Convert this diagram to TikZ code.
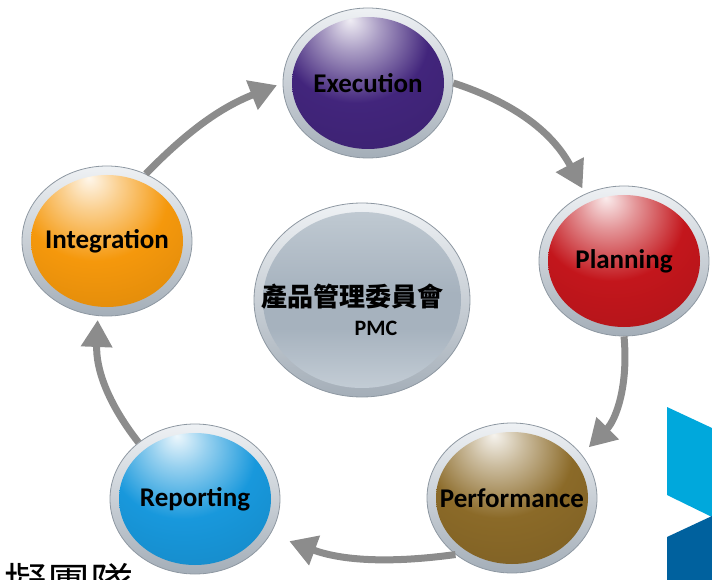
\documentclass[tikz,border=0pt]{standalone}
\usepackage{fontspec}
\setmainfont{Carlito}
\newfontfamily\cjk{Noto Sans CJK TC}
\usetikzlibrary{shapes.geometric,arrows.meta}

\definecolor{execcol}{HTML}{42257C}
\definecolor{plancol}{HTML}{C3161C}
\definecolor{perfcol}{HTML}{8B6A28}
\definecolor{reportcol}{HTML}{1898DC}
\definecolor{integcol}{HTML}{F5980C}
\definecolor{ringtop}{HTML}{EEF1F4}
\definecolor{ringbot}{HTML}{A4AEB8}
\definecolor{ringedge}{HTML}{8E98A2}
\definecolor{arrowgray}{HTML}{8C8C8C}
\definecolor{logolight}{HTML}{00A8DC}
\definecolor{logodark}{HTML}{00619E}
\definecolor{silver0}{HTML}{E2E7EC}
\definecolor{silver1}{HTML}{C8D1D9}
\definecolor{silver2}{HTML}{A6B2BE}
\definecolor{silver3}{HTML}{BCC6CF}
\definecolor{silver4}{HTML}{DCE2E7}
\colorlet{orbcol}{white}

\pgfdeclareradialshading[orbcol]{orbshade}{\pgfpoint{-6bp}{24bp}}{%
  color(0bp)=(orbcol!8!white); color(9bp)=(orbcol!45!white);
  color(24bp)=(orbcol); color(55bp)=(orbcol!85!black);
  color(76bp)=(orbcol!70!black)}
\pgfdeclareverticalshading{silvershade}{100bp}{%
  color(0bp)=(silver0); color(22bp)=(silver1); color(42bp)=(silver2);
  color(52bp)=(silver2); color(72bp)=(silver3); color(100bp)=(silver4)}

\newcommand\orbfont{\bfseries\fontsize{27}{32}\selectfont}

\tikzset{
  ring/.style={ellipse, inner sep=0pt, minimum width=170, minimum height=150,
    top color=ringtop, bottom color=ringbot, draw=ringedge, line width=0.8pt},
  orb/.style={ellipse, inner sep=0pt, minimum width=152, minimum height=132,
    /utils/exec={\colorlet{orbcol}{#1}}, shading=orbshade},
  cyc/.style={draw=arrowgray, line width=7pt,
    -{Triangle[length=27pt,width=30pt]}}
}

\begin{document}
\begin{tikzpicture}[x=1pt,y=-1pt,every label/.style={font=\orbfont}]
  \useasboundingbox (0,0) rectangle (712,580);

  % balls
  \node[ring] (exec-ring) at (368,83) {};
  \node[orb=execcol, label=center:Execution] (exec) at (exec-ring) {};
  \node[ring] (plan-ring) at (624,261) {};
  \node[orb=plancol, label=center:Planning] (plan) at (plan-ring) {};
  \node[ring] (perf-ring) at (512,498) {};
  \node[orb=perfcol, label=center:Performance] (perf) at (perf-ring) {};
  \node[ring] (report-ring) at (195,499) {};
  \node[orb=reportcol, label=center:Reporting] (report) at (report-ring) {};
  \node[ring] (integ-ring) at (107,241) {};
  \node[orb=integcol, label=center:Integration] (integ) at (integ-ring) {};

  % center
  \node[ring, minimum width=216, minimum height=194] (pmc-ring) at (362,300) {};
  \node[ellipse, inner sep=0pt, minimum width=198, minimum height=176,
    shading=silvershade] (pmc) at (pmc-ring) {};
  \node[anchor=base, font=\cjk\bfseries\fontsize{26}{30}\selectfont] (pmc-name) at (352,306) {產品管理委員會};
  \node[anchor=base, font=\bfseries\fontsize{22}{26}\selectfont] (pmc-abbr) at (376,335) {PMC};

  % cycle
  \draw[cyc, shorten >=6pt] (integ-ring.60) to[bend left=12] (exec-ring.west);
  \draw[cyc, shorten >=6pt] (exec-ring.east) to[bend left=22] (plan-ring.120);
  \draw[cyc, shorten >=10pt] (plan-ring.south) to[bend left=25] (perf-ring.32);
  \draw[cyc, shorten >=20pt] (perf-ring.225) to[bend left=14] (report-ring.335);
  \draw[cyc, shorten >=4pt] (report-ring.135) to[bend left=20] (integ-ring.263);

  % bottom text and logo
  \node[anchor=base west, inner sep=0pt, font=\cjk\fontsize{43}{50}\selectfont] (team) at (4,599) {擬團隊};
  \fill[logolight] (667,407) -- (712,428) -- (712,517) -- (667,495) -- cycle;
  \fill[logodark] (667,537) -- (712,516) -- (712,580) -- (667,580) -- cycle;
\end{tikzpicture}
\end{document}
